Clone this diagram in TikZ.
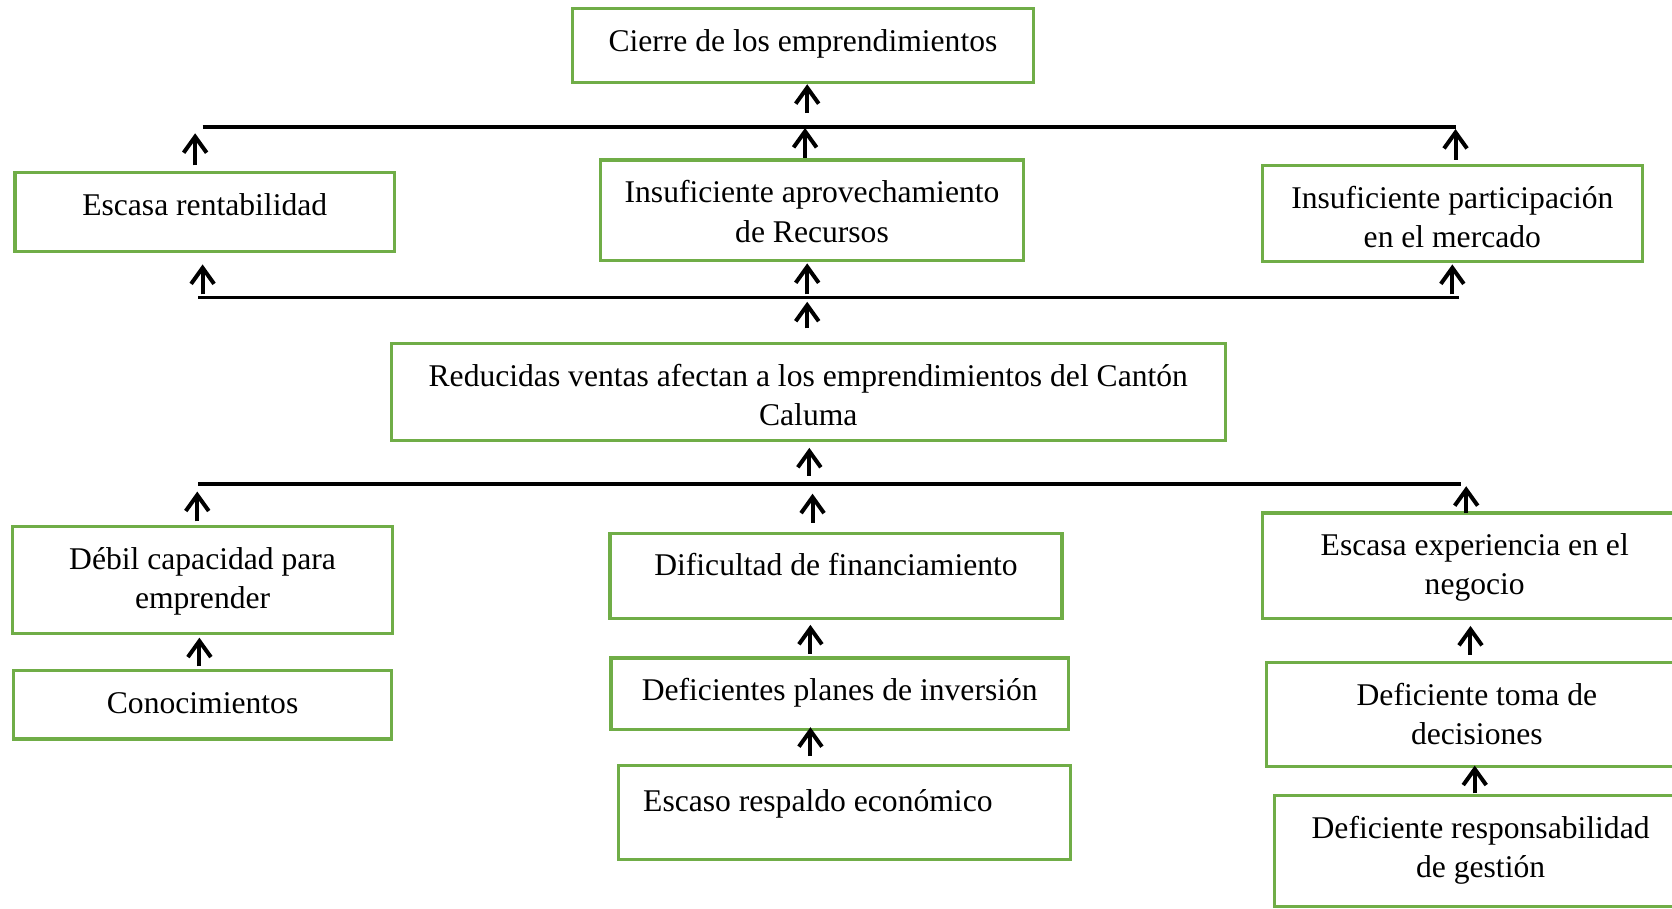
\documentclass[tikz,border=0pt]{standalone}
\usepackage{fontspec}
\setmainfont{Liberation Serif}
\usetikzlibrary{arrows.meta}
\definecolor{verde}{HTML}{70AD47}
\newcommand{\pxu}{0.533pt}
\tikzset{
    caja/.style={draw=verde, line width=1.6pt, outer sep=0pt, inner sep=0pt, anchor=north west},
    texto/.style={font=\fontsize{15.8}{19.7}\selectfont, align=center, inner sep=0pt, anchor=north,
        execute at begin node=\strut},
    doble/.style={yshift=-2.9pt},
    barra/.style={line width=1.8pt},
    flecha/.style={line width=2pt, -{Straight Barb[length=8pt,width=11.5pt]}}
}

\begin{document}
\begin{tikzpicture}[x=\pxu, y=-\pxu]
    % Init
    \useasboundingbox (0,0) rectangle (1568,852);
    \clip (0,0) rectangle (1568,852);
    % 1. def boxes
    \node[caja, minimum width=432*\pxu, minimum height=69*\pxu] (cierre) at (537,8) {};
    \node[caja, minimum width=356*\pxu, minimum height=74*\pxu] (rentab) at (14,162) {};
    \node[caja, minimum width=397*\pxu, minimum height=94*\pxu] (aprov) at (563,150) {};
    \node[caja, minimum width=356*\pxu, minimum height=90*\pxu] (partic) at (1184,155) {};
    \node[caja, minimum width=782*\pxu, minimum height=91*\pxu] (ventas) at (367,322) {};
    \node[caja, minimum width=356*\pxu, minimum height=100*\pxu] (debil) at (12,494) {};
    \node[caja, minimum width=354*\pxu, minimum height=64*\pxu] (conoc) at (13,629) {};
    \node[caja, minimum width=424*\pxu, minimum height=80*\pxu] (dific) at (572,500) {};
    \node[caja, minimum width=429*\pxu, minimum height=67*\pxu] (planes) at (573,617) {};
    \node[caja, minimum width=424*\pxu, minimum height=88*\pxu] (respaldo) at (580,718) {};
    \node[caja, minimum width=398*\pxu, minimum height=99*\pxu] (exper) at (1184,481) {};
    \node[caja, minimum width=394*\pxu, minimum height=98*\pxu] (toma) at (1188,621) {};
    \node[caja, minimum width=387*\pxu, minimum height=104*\pxu] (gestion) at (1195,746) {};
    % 2. def texts
    \node[texto] (cierre-t) at ([shift={(0,13.6)}]cierre.north) {Cierre de los emprendimientos};
    \node[texto] (rentab-t) at ([shift={(0,13.6)}]rentab.north) {Escasa rentabilidad};
    \node[texto, doble] (aprov-t) at ([shift={(0,13.6)}]aprov.north) {Insuficiente aprovechamiento\\de Recursos};
    \node[texto, doble] (partic-t) at ([shift={(0,13.6)}]partic.north) {Insuficiente participación\\en el mercado};
    \node[texto, doble] (ventas-t) at ([shift={(0,13.6)}]ventas.north) {Reducidas ventas afectan a los emprendimientos del Cantón\\Caluma};
    \node[texto, doble] (debil-t) at ([shift={(0,13.6)}]debil.north) {Débil capacidad para\\emprender};
    \node[texto] (conoc-t) at ([shift={(0,13.6)}]conoc.north) {Conocimientos};
    \node[texto] (dific-t) at ([shift={(0,13.6)}]dific.north) {Dificultad de financiamiento};
    \node[texto] (planes-t) at ([shift={(0,13.6)}]planes.north) {Deficientes planes de inversión};
    \node[texto] (respaldo-t) at ([shift={(-25,17)}]respaldo.north) {Escaso respaldo económico};
    \node[texto, doble] (exper-t) at ([shift={(0,13.6)}]exper.north) {Escasa experiencia en el\\negocio};
    \node[texto, doble] (toma-t) at ([shift={(0,13.6)}]toma.north) {Deficiente toma de\\decisiones};
    \node[texto, doble] (gestion-t) at ([shift={(0,13.6)}]gestion.north) {Deficiente responsabilidad\\de gestión};
    % 3. bars
    \coordinate (b1a) at (190,119);
    \coordinate (b1b) at (1365,119);
    \coordinate (b2a) at (186,279);
    \coordinate (b2b) at (1368,279);
    \coordinate (b3a) at (186,454);
    \coordinate (b3b) at (1370,454);
    \draw[barra] (b1a) -- (b1b);
    \draw[barra] (b2a) -- (b2b);
    \draw[barra] (b3a) -- (b3b);
    % 4. arrows
    \draw[flecha] ([shift={(-9,-7)}]rentab.north) -- ++(0,-30);
    \draw[flecha] ([shift={(-6.5,-2)}]aprov.north) -- ++(0,-28);
    \draw[flecha] ([shift={(3,-5)}]partic.north) -- ++(0,-29);
    \draw[flecha] ([shift={(4,29)}]cierre.south) -- ([shift={(4,2)}]cierre.south);
    \draw[flecha] ([shift={(-2,40)}]rentab.south) -- ([shift={(-2,12)}]rentab.south);
    \draw[flecha] ([shift={(-4.5,32)}]aprov.south) -- ([shift={(-4.5,3)}]aprov.south);
    \draw[flecha] ([shift={(0,31)}]partic.south) -- ([shift={(0,3)}]partic.south);
    \draw[flecha] ([shift={(-1,-14)}]ventas.north) -- ++(0,-25);
    \draw[flecha] ([shift={(1,33)}]ventas.south) -- ([shift={(1,7)}]ventas.south);
    \draw[flecha] ([shift={(-5,-5)}]debil.north) -- ++(0,-28);
    \draw[flecha] ([shift={(-22,-10)}]dific.north) -- ++(0,-27);
    \draw[flecha] ([shift={(-8,0)}]exper.north) -- ++(0,-25);
    \draw[flecha] ([shift={(-3,-4)}]conoc.north) -- ([shift={(-3,4)}]debil.south);
    \draw[flecha] ([shift={(-27.5,-4)}]planes.north) -- ([shift={(-24,6)}]dific.south);
    \draw[flecha] ([shift={(-32,-9)}]respaldo.north) -- ([shift={(-27.5,-2)}]planes.south);
    \draw[flecha] ([shift={(-6,-7)}]toma.north) -- ([shift={(-4,7)}]exper.south);
    \draw[flecha] ([shift={(-5.5,-2)}]gestion.north) -- ([shift={(-2,-1)}]toma.south);
\end{tikzpicture}
\end{document}
